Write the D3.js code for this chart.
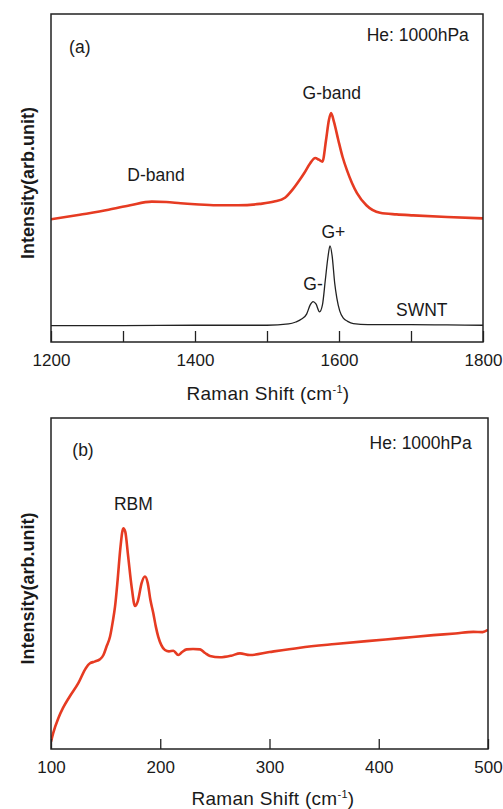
<!DOCTYPE html>
<html>
<head>
<meta charset="utf-8">
<script src="https://cdn.jsdelivr.net/npm/d3@7"></script>
<style>
  html, body { margin: 0; padding: 0; background: #fff; }
  svg { display: block; }
  text { font-family: "Liberation Sans", Arial, Helvetica, sans-serif; fill: #1a1a1a; }
</style>
</head>
<body>
<svg id="chart" width="503" height="809"></svg>
<script>
// ---------- Data ----------
// Panel (a): Raman shift (cm-1) and intensities (arb. unit, 0-100 scale)
const topShift = [1200,1240,1280,1310,1340,1360,1380,1400,1430,1460,1490,1510,1525,1536,1545,1552,1560,1567,1572,1577,1582,1586,1589,1593,1599,1605,1611,1618,1625,1638,1657,1680,1703,1750,1800];
const topRed   = [37.4,38.8,40.3,41.7,42.8,42.7,42.3,42.0,41.7,41.7,42.1,42.8,44.0,46.6,49.3,51.6,54.5,56.1,55.6,55.0,61.6,67.7,69.8,67.1,61.6,56.4,52.4,48.5,45.4,41.7,39.4,38.9,38.6,38.1,37.7];

const swntShift = [1200,1300,1400,1500,1530,1540,1548,1555,1560,1564,1568,1573,1577,1581,1584.5,1587.5,1590.5,1594,1597,1601,1606,1612,1620,1640,1700,1750,1800];
const swntVals  = [5.0,5.0,5.1,5.1,5.5,6.1,7.0,8.5,11.3,12.3,11.6,9.2,11.3,18.9,25.6,29.3,26.2,18.0,13.4,9.5,7.3,6.3,5.6,5.3,5.3,5.2,5.1];

// Panel (b): low-frequency region
const botShift = [100,102,106.7,111,117,125,132,135.7,140,144.8,148,151,154,156.5,158.6,161,163.5,166.2,168,170.5,173.8,176.9,179.5,183,186,188.5,191,193.6,196,198.2,201,204.3,208,212,216.5,220,224.2,230,236.4,241,245.5,254.7,265,273,282,300,327.9,360,389,420,450,470,486.6,495,500];
const botVals  = [2.2,4.8,9.3,12.4,15.8,19.9,24.5,25.9,26.4,27.1,28.4,31.1,33.9,38.4,43.0,51.1,60.7,66.7,65.6,58.6,49.0,43.2,44.7,50.2,52.1,50.2,45.0,41.1,36.9,33.9,31.4,29.9,29.5,29.7,28.4,29.3,30.1,30.2,30.1,29.0,28.1,27.7,28.2,28.9,28.4,29.3,30.6,31.7,32.6,33.5,34.4,34.9,35.4,35.3,36.0];

// Tick values
const topTicks = [1200,1300,1400,1500,1600,1700,1800];
const topTickLabels = [1200,1400,1600,1800];
const botTicks = [100,200,300,400,500];
const botTickLabels = [100,200,300,400,500];

// ---------- Drawing ----------
const svg = d3.select("#chart");
const RED = "#e63b22";
const FONT = 17.5;

function panel(opts) {
  const g = svg.append("g");
  const x = d3.scaleLinear().domain(opts.xDomain).range([opts.left, opts.right]);
  const y = d3.scaleLinear().domain([0, 100]).range([opts.bottom, opts.top]);

  const clipId = "clip" + opts.id;
  svg.append("clipPath").attr("id", clipId).append("rect")
    .attr("x", opts.left).attr("y", opts.top)
    .attr("width", opts.right - opts.left).attr("height", opts.bottom - opts.top);

  const line = d3.line().x(d => x(d[0])).y(d => y(d[1])).curve(d3.curveMonotoneX);

  opts.series.forEach(s => {
    g.append("path")
      .datum(d3.zip(s.x, s.y))
      .attr("clip-path", `url(#${clipId})`)
      .attr("fill", "none")
      .attr("stroke", s.color)
      .attr("stroke-width", s.width)
      .attr("stroke-linejoin", "round")
      .attr("d", line);
  });

  const axis = d3.axisBottom(x)
    .tickValues(opts.ticks)
    .tickSizeInner(-opts.tickLen)
    .tickSizeOuter(0)
    .tickPadding(12)
    .tickFormat(d => opts.labels.includes(d) ? String(d) : "");
  const ax = g.append("g").attr("transform", `translate(0,${opts.bottom})`).call(axis);
  ax.select(".domain").remove();
  ax.selectAll(".tick line").attr("stroke", "#222").attr("stroke-width", 1.3);
  ax.selectAll(".tick text")
    .attr("font-size", 17)
    .attr("fill", "#1a1a1a")
    .style("font-family", '"Liberation Sans", Arial, sans-serif');

  g.append("rect")
    .attr("x", opts.left).attr("y", opts.top)
    .attr("width", opts.right - opts.left).attr("height", opts.bottom - opts.top)
    .attr("fill", "none").attr("stroke", "#222").attr("stroke-width", 1.5);

  g.append("text")
    .attr("transform", `translate(${opts.yTitleX},${opts.yTitleY}) rotate(-90)`)
    .attr("text-anchor", "middle")
    .attr("font-size", 18)
    .attr("font-weight", "bold")
    .text("Intensity(arb.unit)");

  const t = g.append("text")
    .attr("x", opts.xTitleX).attr("y", opts.xTitleY)
    .attr("text-anchor", "middle")
    .attr("font-size", 19)
    .attr("letter-spacing", 0.3);
  t.append("tspan").text("Raman Shift (cm");
  t.append("tspan").attr("font-size", 11).attr("dy", -7).text("-1");
  t.append("tspan").attr("dy", 7).text(")");

  opts.notes.forEach(n => {
    g.append("text")
      .attr("x", x(n.x))
      .attr("y", y(n.y))
      .attr("text-anchor", n.anchor || "middle")
      .attr("font-size", FONT)
      .text(n.text);
  });
  return {x, y};
}

panel({
  id: "a",
  xDomain: [1200, 1800],
  left: 51, right: 483, top: 14, bottom: 342,
  ticks: topTicks, labels: topTickLabels, tickLen: 11,
  series: [
    {x: topShift, y: topRed, color: RED, width: 2.6},
    {x: swntShift, y: swntVals, color: "#222", width: 1.3}
  ],
  yTitleX: 34, yTitleY: 183,
  xTitleX: 268, xTitleY: 399.5,
  notes: [
    {text: "(a)", x: 1240, y: (342 - 53) / 328 * 100},
    {text: "He: 1000hPa", x: 1780.3, y: (342 - 41) / 328 * 100, anchor: "end"},
    {text: "G-band", x: 1589.9, y: (342 - 99) / 328 * 100},
    {text: "D-band", x: 1345.8, y: (342 - 181) / 328 * 100},
    {text: "G+", x: 1592.1, y: (342 - 238) / 328 * 100},
    {text: "G-", x: 1564.0, y: (342 - 289.5) / 328 * 100},
    {text: "SWNT", x: 1714.9, y: (342 - 316) / 328 * 100}
  ]
});

panel({
  id: "b",
  xDomain: [100, 500],
  left: 51, right: 488, top: 418, bottom: 749,
  ticks: botTicks, labels: botTickLabels, tickLen: 10,
  series: [
    {x: botShift, y: botVals, color: RED, width: 2.6}
  ],
  yTitleX: 34, yTitleY: 588.5,
  xTitleX: 273, xTitleY: 805,
  notes: [
    {text: "(b)", x: 129.3, y: (749 - 456) / 331 * 100},
    {text: "He: 1000hPa", x: 485.1, y: (749 - 449) / 331 * 100, anchor: "end"},
    {text: "RBM", x: 175.4, y: (749 - 509.5) / 331 * 100}
  ]
});
</script>
</body>
</html>
